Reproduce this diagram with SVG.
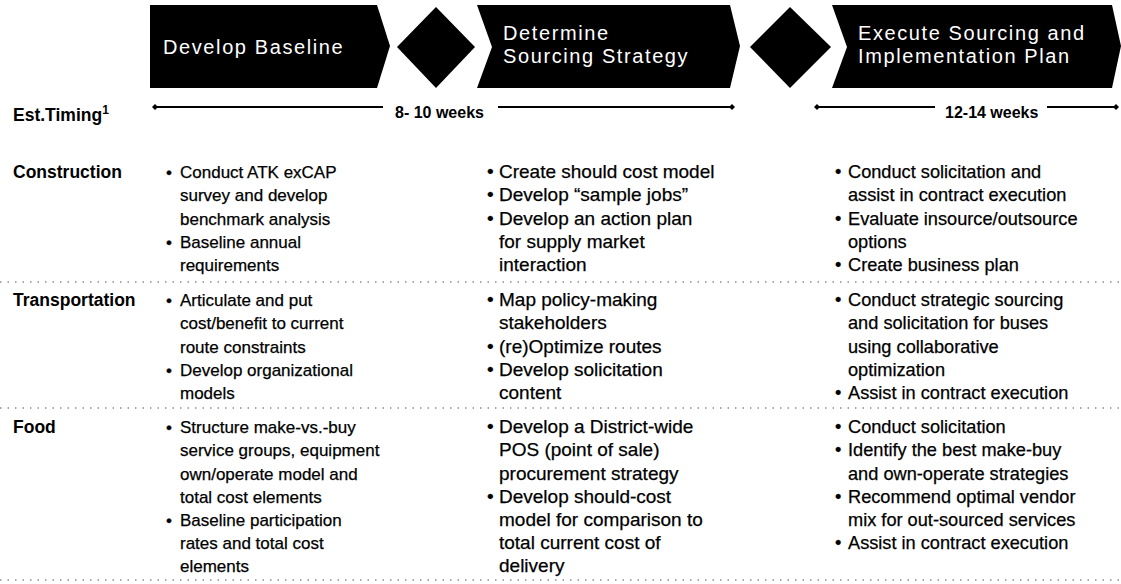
<svg xmlns="http://www.w3.org/2000/svg" width="1121" height="584" viewBox="0 0 1121 584">
<style>
.hdr{fill:#000}
.ht{font-family:"Liberation Sans",Arial,sans-serif;font-size:20px;fill:#fff;letter-spacing:1.6px}
.lbl{font-family:"Liberation Sans",Arial,sans-serif;font-size:17.5px;font-weight:bold;fill:#000}
.b{font-family:"Liberation Sans",Arial,sans-serif;fill:#000;stroke:#000;stroke-width:0.25}
.c1{font-size:17px}
.c2{font-size:19px}
.c3{font-size:18.2px}
.wk{font-family:"Liberation Sans",Arial,sans-serif;font-size:16px;font-weight:bold;fill:#000}
.tl{stroke:#000;stroke-width:2;fill:none}
.sep{stroke:#555;stroke-width:1.2;stroke-dasharray:1.5 6;fill:none}
</style>
<defs>
<marker id="dm" viewBox="0 0 10 10" refX="5" refY="5" markerWidth="8" markerHeight="6" markerUnits="userSpaceOnUse" orient="auto">
<path d="M0 5 L5 0 L10 5 L5 10 Z" fill="#000"/>
</marker>
</defs>
<rect width="1121" height="584" fill="#fff"/>

<g id="phase-develop-baseline">
<polygon class="hdr" points="150,5 377,5 390,46 377,88 150,88"/>
<text class="ht" x="163" y="54">Develop Baseline</text>
</g>
<g id="gate-1"><polygon class="hdr" points="436,7 475,47 436,88 397,47"/></g>
<g id="phase-determine-strategy">
<polygon class="hdr" points="477,5 730,5 740,46 730,88 477,88 492,47"/>
<text class="ht" x="503" y="40">Determine</text>
<text class="ht" x="503" y="63">Sourcing Strategy</text>
</g>
<g id="gate-2"><polygon class="hdr" points="790,7 831,47 790,88 750,47"/></g>
<g id="phase-execute">
<polygon class="hdr" points="832,5 1112,5 1121,46 1112,88 832,88 847,47"/>
<text class="ht" x="858" y="40">Execute Sourcing and</text>
<text class="ht" x="858" y="63">Implementation Plan</text>
</g>

<g id="timing">
<text class="lbl" x="13" y="121">Est.Timing<tspan font-size="12" dy="-7">1</tspan></text>
<text class="wk" x="395" y="118">8- 10 weeks</text>
<text class="wk" x="945" y="118">12-14 weeks</text>
</g>
<g id="connectors">
<line class="tl" x1="155" y1="107" x2="383" y2="107" marker-start="url(#dm)"/>
<line class="tl" x1="498" y1="107" x2="732" y2="107" marker-end="url(#dm)"/>
<line class="tl" x1="817" y1="107" x2="935" y2="107" marker-start="url(#dm)"/>
<line class="tl" x1="1047" y1="107" x2="1116" y2="107" marker-end="url(#dm)"/>
<line class="sep" x1="0" y1="282" x2="1121" y2="282"/>
<line class="sep" x1="0" y1="408" x2="1121" y2="408"/>
<line class="sep" x1="0" y1="580" x2="1121" y2="580"/>
</g>

<g id="row-construction">
<text class="lbl" x="13" y="178">Construction</text>
<g class="b c1">
<text x="166" y="178">•</text>
<text x="180" y="178">Conduct ATK exCAP</text>
<text x="180" y="201">survey and develop</text>
<text x="180" y="224.5">benchmark analysis</text>
<text x="166" y="248">•</text>
<text x="180" y="248">Baseline annual</text>
<text x="180" y="271">requirements</text>
</g>
<g class="b c2">
<text x="487" y="178">•</text>
<text x="499" y="178">Create should cost model</text>
<text x="487" y="201">•</text>
<text x="499" y="201">Develop “sample jobs”</text>
<text x="487" y="224.5">•</text>
<text x="499" y="224.5">Develop an action plan</text>
<text x="499" y="248">for supply market</text>
<text x="499" y="271">interaction</text>
</g>
<g class="b c3">
<text x="835" y="178">•</text>
<text x="848" y="178">Conduct solicitation and</text>
<text x="848" y="201">assist in contract execution</text>
<text x="835" y="224.5">•</text>
<text x="848" y="224.5">Evaluate insource/outsource</text>
<text x="848" y="248">options</text>
<text x="835" y="271">•</text>
<text x="848" y="271">Create business plan</text>
</g>
</g>

<g id="row-transportation">
<text class="lbl" x="13" y="306">Transportation</text>
<g class="b c1">
<text x="166" y="306">•</text>
<text x="180" y="306">Articulate and put</text>
<text x="180" y="329">cost/benefit to current</text>
<text x="180" y="352.5">route constraints</text>
<text x="166" y="376">•</text>
<text x="180" y="376">Develop organizational</text>
<text x="180" y="399">models</text>
</g>
<g class="b c2">
<text x="487" y="306">•</text>
<text x="499" y="306">Map policy-making</text>
<text x="499" y="329">stakeholders</text>
<text x="487" y="352.5">•</text>
<text x="499" y="352.5">(re)Optimize routes</text>
<text x="487" y="376">•</text>
<text x="499" y="376">Develop solicitation</text>
<text x="499" y="399">content</text>
</g>
<g class="b c3">
<text x="835" y="306">•</text>
<text x="848" y="306">Conduct strategic sourcing</text>
<text x="848" y="329">and solicitation for buses</text>
<text x="848" y="352.5">using collaborative</text>
<text x="848" y="376">optimization</text>
<text x="835" y="399">•</text>
<text x="848" y="399">Assist in contract execution</text>
</g>
</g>

<g id="row-food">
<text class="lbl" x="13" y="433">Food</text>
<g class="b c1">
<text x="166" y="433">•</text>
<text x="180" y="433">Structure make-vs.-buy</text>
<text x="180" y="456">service groups, equipment</text>
<text x="180" y="479.5">own/operate model and</text>
<text x="180" y="503">total cost elements</text>
<text x="166" y="526">•</text>
<text x="180" y="526">Baseline participation</text>
<text x="180" y="549">rates and total cost</text>
<text x="180" y="572">elements</text>
</g>
<g class="b c2">
<text x="487" y="433">•</text>
<text x="499" y="433">Develop a District-wide</text>
<text x="499" y="456">POS (point of sale)</text>
<text x="499" y="479.5">procurement strategy</text>
<text x="487" y="503">•</text>
<text x="499" y="503">Develop should-cost</text>
<text x="499" y="526">model for comparison to</text>
<text x="499" y="549">total current cost of</text>
<text x="499" y="572">delivery</text>
</g>
<g class="b c3">
<text x="835" y="433">•</text>
<text x="848" y="433">Conduct solicitation</text>
<text x="835" y="456">•</text>
<text x="848" y="456">Identify the best make-buy</text>
<text x="848" y="479.5">and own-operate strategies</text>
<text x="835" y="503">•</text>
<text x="848" y="503">Recommend optimal vendor</text>
<text x="848" y="526">mix for out-sourced services</text>
<text x="835" y="549">•</text>
<text x="848" y="549">Assist in contract execution</text>
</g>
</g>
</svg>
